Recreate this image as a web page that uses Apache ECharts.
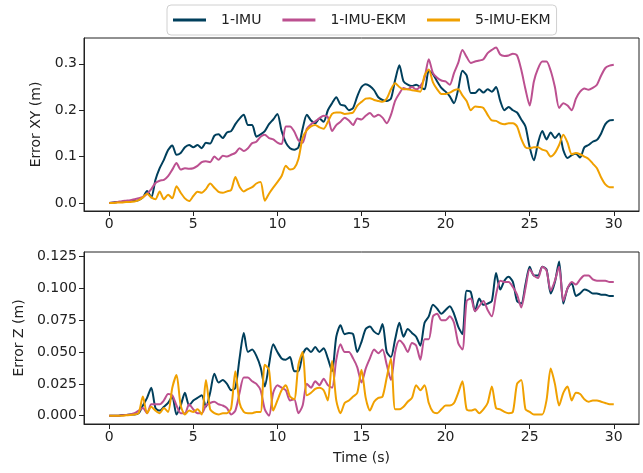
<!DOCTYPE html>
<html>
<head>
<meta charset="utf-8">
<script src="https://cdn.jsdelivr.net/npm/echarts@6/dist/echarts.min.js"></script>
<style>
  html, body { margin: 0; padding: 0; background: #fff; }
  #chart { width: 643px; height: 473px; }
</style>
</head>
<body>
<div id="chart"></div>
<script>
// time stamps (s), shared by every series
const time = [
  0, 0.25, 0.5, 0.75, 1, 1.25, 1.5, 1.75, 2, 2.25, 2.5, 2.75, 3, 3.25, 3.5, 3.75,
  4, 4.25, 4.5, 4.75, 5, 5.25, 5.5, 5.75, 6, 6.25, 6.5, 6.75, 7, 7.25, 7.5, 7.75,
  8, 8.25, 8.5, 8.75, 9, 9.25, 9.5, 9.75, 10, 10.25, 10.5, 10.75, 11, 11.25, 11.5, 11.75,
  12, 12.25, 12.5, 12.75, 13, 13.25, 13.5, 13.75, 14, 14.25, 14.5, 14.75, 15, 15.25, 15.5, 15.75,
  16, 16.25, 16.5, 16.75, 17, 17.25, 17.5, 17.75, 18, 18.25, 18.5, 18.75, 19, 19.25, 19.5, 19.75,
  20, 20.25, 20.5, 20.75, 21, 21.25, 21.5, 21.75, 22, 22.25, 22.5, 22.75, 23, 23.25, 23.5, 23.75,
  24, 24.25, 24.5, 24.75, 25, 25.25, 25.5, 25.75, 26, 26.25, 26.5, 26.75, 27, 27.25, 27.5, 27.75,
  28, 28.25, 28.5, 28.75, 29, 29.25, 29.5, 29.75, 30
];

const seriesNames = ['1-IMU', '1-IMU-EKM', '5-IMU-EKM'];
const colors = ['#003f5c', '#bc5090', '#f0a000'];

// Error XY (m)
const imuXY = [
  0.000, 0.001, 0.002, 0.002, 0.003, 0.004, 0.004, 0.006,
  0.012, 0.026, 0.012, 0.050, 0.075, 0.093, 0.114, 0.124,
  0.104, 0.108, 0.120, 0.125, 0.120, 0.125, 0.118, 0.130,
  0.128, 0.145, 0.148, 0.140, 0.152, 0.155, 0.170, 0.182,
  0.190, 0.168, 0.168, 0.143, 0.148, 0.155, 0.170, 0.180,
  0.192, 0.155, 0.130, 0.118, 0.115, 0.120, 0.160, 0.190,
  0.178, 0.172, 0.182, 0.175, 0.200, 0.215, 0.228, 0.212,
  0.210, 0.200, 0.205, 0.230, 0.250, 0.256, 0.252, 0.243,
  0.228, 0.222, 0.220, 0.225, 0.265, 0.297, 0.262, 0.255,
  0.252, 0.255, 0.250, 0.245, 0.285, 0.278, 0.262, 0.248,
  0.240, 0.230, 0.215, 0.245, 0.285, 0.275, 0.237, 0.237,
  0.245, 0.238, 0.245, 0.240, 0.250, 0.220, 0.200, 0.207,
  0.200, 0.195, 0.180, 0.165, 0.120, 0.092, 0.130, 0.155,
  0.137, 0.152, 0.140, 0.150, 0.114, 0.097, 0.103, 0.106,
  0.098, 0.120, 0.125, 0.132, 0.136, 0.150, 0.170, 0.178,
  0.179
];
const ekm1XY = [
  0.000, 0.001, 0.002, 0.004, 0.005, 0.006, 0.008, 0.010,
  0.013, 0.020, 0.030, 0.043, 0.048, 0.050, 0.058, 0.072,
  0.086, 0.072, 0.075, 0.074, 0.075, 0.080, 0.088, 0.090,
  0.088, 0.100, 0.093, 0.102, 0.100, 0.104, 0.108, 0.118,
  0.112, 0.118, 0.129, 0.132, 0.143, 0.147, 0.140, 0.137,
  0.130, 0.127, 0.165, 0.165, 0.154, 0.135, 0.130, 0.160,
  0.170, 0.176, 0.183, 0.188, 0.185, 0.155, 0.168, 0.175,
  0.184, 0.178, 0.168, 0.182, 0.180, 0.188, 0.194, 0.186,
  0.190, 0.184, 0.172, 0.190, 0.220, 0.236, 0.248, 0.245,
  0.250, 0.245, 0.252, 0.270, 0.310, 0.280, 0.270, 0.264,
  0.262, 0.255, 0.280, 0.302, 0.330, 0.315, 0.302, 0.305,
  0.307, 0.310, 0.323, 0.330, 0.335, 0.320, 0.317, 0.318,
  0.322, 0.318, 0.287, 0.245, 0.210, 0.262, 0.290, 0.305,
  0.305, 0.285, 0.250, 0.205, 0.215, 0.210, 0.200, 0.225,
  0.240, 0.247, 0.244, 0.248, 0.255, 0.275, 0.291, 0.296,
  0.298
];
const ekm5XY = [
  0.000, 0.000, 0.001, 0.001, 0.002, 0.002, 0.003, 0.006,
  0.012, 0.020, 0.012, 0.008, 0.025, 0.008, 0.018, 0.010,
  0.036, 0.022, 0.010, 0.004, 0.015, 0.024, 0.022, 0.030,
  0.042, 0.033, 0.024, 0.022, 0.025, 0.028, 0.056, 0.035,
  0.025, 0.030, 0.034, 0.042, 0.045, 0.005, 0.020, 0.033,
  0.045, 0.058, 0.080, 0.072, 0.075, 0.095, 0.140, 0.157,
  0.165, 0.168, 0.163, 0.160, 0.175, 0.192, 0.195, 0.195,
  0.192, 0.193, 0.195, 0.210, 0.218, 0.225, 0.226, 0.222,
  0.220, 0.218, 0.225, 0.245, 0.258, 0.250, 0.245, 0.245,
  0.243, 0.242, 0.240, 0.275, 0.288, 0.260, 0.245, 0.235,
  0.235, 0.238, 0.243, 0.245, 0.232, 0.220, 0.200, 0.208,
  0.207, 0.205, 0.190, 0.178, 0.177, 0.172, 0.170, 0.172,
  0.172, 0.165, 0.138, 0.120, 0.118, 0.120, 0.120, 0.115,
  0.112, 0.100, 0.108, 0.125, 0.147, 0.130, 0.105, 0.108,
  0.105, 0.100, 0.095, 0.085, 0.075, 0.055, 0.040, 0.034,
  0.034
];

// Error Z (m)
const imuZ = [
  0.000, 0.000, 0.000, 0.0005, 0.0005, 0.001, 0.001, 0.002,
  0.008, 0.014, 0.022, 0.006, 0.004, 0.007, 0.010, 0.015,
  0.001, 0.008, 0.018, 0.008, 0.012, 0.014, 0.016, 0.007,
  0.018, 0.033, 0.026, 0.028, 0.025, 0.020, 0.022, 0.045,
  0.065, 0.050, 0.052, 0.047, 0.038, 0.023, 0.040, 0.056,
  0.050, 0.045, 0.044, 0.046, 0.035, 0.035, 0.048, 0.053,
  0.050, 0.054, 0.050, 0.053, 0.045, 0.035, 0.062, 0.071,
  0.064, 0.065, 0.064, 0.050, 0.058, 0.068, 0.070, 0.066,
  0.064, 0.072, 0.050, 0.046, 0.060, 0.073, 0.062, 0.068,
  0.065, 0.062, 0.055, 0.073, 0.078, 0.087, 0.084, 0.080,
  0.083, 0.086, 0.080, 0.070, 0.064, 0.098, 0.097, 0.082,
  0.092, 0.087, 0.088, 0.090, 0.112, 0.099, 0.106, 0.109,
  0.105, 0.090, 0.088, 0.103, 0.117, 0.110, 0.110, 0.117,
  0.115, 0.096, 0.105, 0.121, 0.088, 0.100, 0.104, 0.094,
  0.096, 0.099, 0.098, 0.096, 0.096, 0.095, 0.095, 0.094,
  0.094
];
const ekm1Z = [
  0.000, 0.000, 0.000, 0.0003, 0.0005, 0.001, 0.002, 0.004,
  0.006, 0.002, 0.009, 0.009, 0.009, 0.012, 0.017, 0.016,
  0.008, 0.002, 0.002, 0.009, 0.005, 0.002, 0.002, 0.008,
  0.010, 0.011, 0.009, 0.008, 0.006, 0.001, 0.004, 0.018,
  0.030, 0.030, 0.027, 0.025, 0.020, 0.005, 0.000, 0.018,
  0.024, 0.022, 0.020, 0.012, 0.013, 0.002, 0.008, 0.025,
  0.022, 0.027, 0.024, 0.029, 0.024, 0.022, 0.044, 0.056,
  0.050, 0.050, 0.045, 0.038, 0.026, 0.037, 0.045, 0.052,
  0.049, 0.052, 0.040, 0.028, 0.050, 0.059, 0.056, 0.050,
  0.057, 0.055, 0.044, 0.060, 0.060, 0.078, 0.080, 0.075,
  0.075, 0.078, 0.073, 0.057, 0.052, 0.090, 0.092, 0.082,
  0.086, 0.090, 0.083, 0.078, 0.095, 0.106, 0.105, 0.105,
  0.101, 0.095, 0.085, 0.100, 0.115, 0.110, 0.108, 0.117,
  0.114, 0.098, 0.106, 0.117, 0.090, 0.100, 0.105, 0.103,
  0.107, 0.110, 0.110, 0.107, 0.106, 0.106, 0.106, 0.105,
  0.105
];
const ekm5Z = [
  0.000, 0.000, 0.000, 0.000, 0.0003, 0.0005, 0.001, 0.002,
  0.015, 0.002, 0.007, 0.004, 0.002, 0.006, 0.003, 0.022,
  0.032, 0.008, 0.001, 0.004, 0.003, 0.005, 0.001, 0.028,
  0.005, 0.002, 0.001, 0.002, 0.002, 0.006, 0.035, 0.010,
  0.003, 0.002, 0.002, 0.003, 0.003, 0.040, 0.036, 0.004,
  0.012, 0.020, 0.024, 0.015, 0.013, 0.040, 0.050, 0.016,
  0.018, 0.021, 0.022, 0.020, 0.012, 0.043, 0.012, 0.002,
  0.010, 0.012, 0.015, 0.018, 0.036, 0.014, 0.004, 0.011,
  0.014, 0.015, 0.030, 0.045, 0.005, 0.005, 0.007, 0.011,
  0.014, 0.024, 0.020, 0.024, 0.010, 0.003, 0.002, 0.005,
  0.008, 0.008, 0.010, 0.018, 0.027, 0.005, 0.004, 0.005,
  0.002, 0.005, 0.010, 0.023, 0.006, 0.005, 0.003, 0.002,
  0.003, 0.025, 0.028, 0.005, 0.003, 0.001, 0.001, 0.001,
  0.012, 0.037, 0.025, 0.008, 0.018, 0.023, 0.012, 0.018,
  0.017, 0.013, 0.011, 0.012, 0.012, 0.011, 0.010, 0.009,
  0.009
];

const xTicks = [0, 5, 10, 15, 20, 25, 30];
const xyTicks = [0, 0.1, 0.2, 0.3];
const zTicks = [0, 0.025, 0.05, 0.075, 0.1, 0.125];

const font = 'DejaVu Sans';
const ink = '#222';
const fontSize = 14;

function pairs(values) {
  return time.map((t, i) => [t, values[i]]);
}

function makeX(gridIndex, name) {
  return {
    type: 'value',
    gridIndex: gridIndex,
    min: -1.5,
    max: 31.5,
    name: name,
    nameLocation: 'middle',
    nameGap: 27,
    nameTextStyle: { fontFamily: font, fontSize: fontSize, color: ink },
    axisLine: { onZero: false, lineStyle: { color: ink, width: 1 } },
    axisTick: { show: true, length: 5, customValues: xTicks, lineStyle: { color: ink } },
    axisLabel: { customValues: xTicks, margin: 6, fontFamily: font, fontSize: fontSize, color: ink },
    splitLine: { show: false }
  };
}

function makeY(gridIndex, name, min, max, ticks, digits, gap) {
  return {
    type: 'value',
    gridIndex: gridIndex,
    min: min,
    max: max,
    name: name,
    nameLocation: 'middle',
    nameGap: gap,
    nameTextStyle: { fontFamily: font, fontSize: fontSize, color: ink },
    axisLine: { show: true, onZero: false, lineStyle: { color: ink, width: 1 } },
    axisTick: { show: true, length: 5, customValues: ticks, lineStyle: { color: ink } },
    axisLabel: {
      customValues: ticks, margin: 7, fontFamily: font, fontSize: fontSize, color: ink,
      formatter: v => v.toFixed(digits)
    },
    splitLine: { show: false }
  };
}

function makeSeries(name, color, values, idx) {
  return {
    name: name,
    type: 'line',
    xAxisIndex: idx,
    yAxisIndex: idx,
    data: pairs(values),
    showSymbol: false,
    symbol: 'none',
    smooth: 0.25,
    lineStyle: { color: color, width: 2 },
    itemStyle: { color: color }
  };
}

const chart = echarts.init(document.getElementById('chart'), null, { renderer: 'canvas' });

chart.setOption({
  animation: false,
  backgroundColor: '#fff',
  legend: {
    data: seriesNames,
    top: 5,
    left: 167,
    icon: 'rect',
    itemWidth: 33,
    itemHeight: 3,
    itemGap: 21,
    padding: [8, 6, 8, 6],
    borderColor: '#d0d0d0',
    borderWidth: 1,
    borderRadius: 4,
    textStyle: { fontFamily: font, fontSize: fontSize, color: ink, padding: [0, 0, 0, 10] }
  },
  grid: [
    { left: 84, right: 4, top: 38, height: 173, show: true, borderColor: ink, borderWidth: 1 },
    { left: 84, right: 4, top: 252, height: 172, show: true, borderColor: ink, borderWidth: 1 }
  ],
  xAxis: [makeX(0, ''), makeX(1, 'Time (s)')],
  yAxis: [
    makeY(0, 'Error XY (m)', -0.0173, 0.3557, xyTicks, 1, 39),
    makeY(1, 'Error Z (m)', -0.0065, 0.1285, zTicks, 3, 56)
  ],
  series: [
    makeSeries(seriesNames[0], colors[0], imuXY, 0),
    makeSeries(seriesNames[1], colors[1], ekm1XY, 0),
    makeSeries(seriesNames[2], colors[2], ekm5XY, 0),
    makeSeries(seriesNames[0], colors[0], imuZ, 1),
    makeSeries(seriesNames[1], colors[1], ekm1Z, 1),
    makeSeries(seriesNames[2], colors[2], ekm5Z, 1)
  ]
});
</script>
</body>
</html>
